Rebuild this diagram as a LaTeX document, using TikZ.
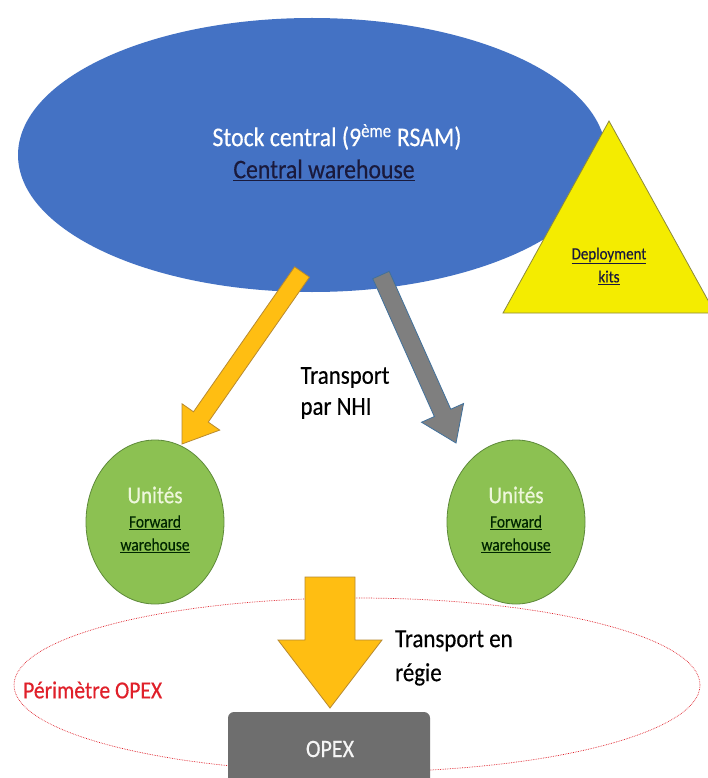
\documentclass[tikz,border=0pt]{standalone}
\usepackage{fontspec}
\setmainfont{Carlito}[FakeStretch=0.88,FakeBold=0.4]
\usetikzlibrary{shapes.geometric,calc}
\definecolor{cblue}{HTML}{4472C4}
\definecolor{cyel}{HTML}{F4EC00}
\definecolor{cyelline}{HTML}{8C8A3C}
\definecolor{corange}{HTML}{FFBE12}
\definecolor{corline}{HTML}{B88A30}
\definecolor{cgray}{HTML}{7F7F7F}
\definecolor{cgrayline}{HTML}{41719C}
\definecolor{cgreen}{HTML}{8CC152}
\definecolor{cgreenline}{HTML}{5E8A3A}
\definecolor{cbox}{HTML}{6E6E6E}
\definecolor{cred}{HTML}{E0202A}
\definecolor{cnavy}{HTML}{1A1A3C}
\definecolor{clightgreen}{HTML}{EEF7DC}
\newcommand{\blockarrow}[6]{%
  \coordinate (h) at ($(#3)!#6!(#2)$);
  \path[#1] ($(#2)!#4!90:(#3)$) -- ($(h)!#4!90:(#3)$) -- ($(h)!#5!90:(#3)$) -- (#3)
    -- ($(h)!#5!-90:(#3)$) -- ($(h)!#4!-90:(#3)$) -- ($(#2)!#4!-90:(#3)$) -- cycle;}
\tikzset{
  lbl/.style={inner sep=0pt, text=black, align=left},
  orangearrow/.style={fill=corange, draw=corline, line width=0.8pt, line join=miter},
  grayarrow/.style={fill=cgray, draw=cgrayline, line width=0.8pt, line join=miter},
  unit/.style={ellipse, fill=cgreen, draw=cgreenline, line width=0.8pt, minimum width=138pt, minimum height=164pt, inner sep=0pt},
}
\begin{document}
\begin{tikzpicture}[x=1pt, y=-1pt]
\useasboundingbox (0,0) rectangle (708,778);
\clip (0,0) rectangle (708,778);
\fill[white] (0,0) rectangle (708,778);
% central stock
\node[ellipse, fill=cblue, minimum width=588pt, minimum height=274pt, inner sep=0pt] (stock) at (312,155) {};
\node[inner sep=0pt, text=white, font=\fontsize{27}{30}\selectfont] (stocktxt) at (337,137) {Stock central (9\textsuperscript{ème} RSAM)};
\node[inner sep=0pt, text=cnavy, font=\fontsize{27}{30}\selectfont] (cw) at (324,170) {\underline{Central warehouse}};
% triangle
\coordinate (ta) at (609,121);
\coordinate (tl) at (503,313);
\coordinate (tr) at (715,313);
\filldraw[fill=cyel, draw=cyelline, line width=0.8pt] (ta) -- (tl) -- (tr) -- cycle;
\node[inner sep=0pt, text=cnavy, font=\fontsize{17}{23}\selectfont, align=center] (kits) at (609,266) {\underline{Deployment}\\\underline{kits}};
% units
\node[unit] (u1) at (155,522) {};
\node[unit] (u2) at (516,522) {};
\foreach \u in {u1,u2}{
  \node[inner sep=0pt, text=clightgreen, font=\fontsize{24}{26}\selectfont] at ($(\u)+(0,-27)$) {Unités};
  \node[inner sep=0pt, text=black!85!green, font=\fontsize{17.5}{23}\selectfont, align=center] at ($(\u)+(0,12)$) {\underline{Forward}\\\underline{warehouse}};
}
% arrows from central stock
\coordinate (a1s) at (302,272);
\coordinate (a1e) at (182,444);
\coordinate (a2s) at (381,275);
\coordinate (a2e) at (456,443);
\blockarrow{orangearrow}{a1s}{a1e}{9pt}{23pt}{33pt}
\blockarrow{grayarrow}{a2s}{a2e}{9pt}{23pt}{33pt}
\node[lbl, font=\fontsize{26}{31}\selectfont] (nhi) at (345,393) {Transport\\par NHI};
% OPEX perimeter
\node[ellipse, draw=cred, densely dotted, line width=0.7pt, minimum width=686pt, minimum height=174pt, inner sep=0pt] (perim) at (357,685) {};
\node[inner sep=0pt, text=cred, font=\fontsize{24.5}{26}\selectfont, anchor=west] (plbl) at (23,690) {Périmètre OPEX};
% OPEX box
\node[fill=cbox, rounded corners=6pt, minimum width=202pt, minimum height=90pt, inner sep=0pt] (opex) at (329,757) {};
\node[inner sep=0pt, text=white!92!gray, font=\fontsize{25}{27}\selectfont] at (330,749) {OPEX};
% down arrow
\coordinate (a3s) at (330,577);
\coordinate (a3e) at (330,708);
\blockarrow{orangearrow}{a3s}{a3e}{25pt}{52pt}{68pt}
\node[lbl, font=\fontsize{26}{34}\selectfont, anchor=west] (regie) at (395,658) {Transport en\\régie};
\end{tikzpicture}
\end{document}
